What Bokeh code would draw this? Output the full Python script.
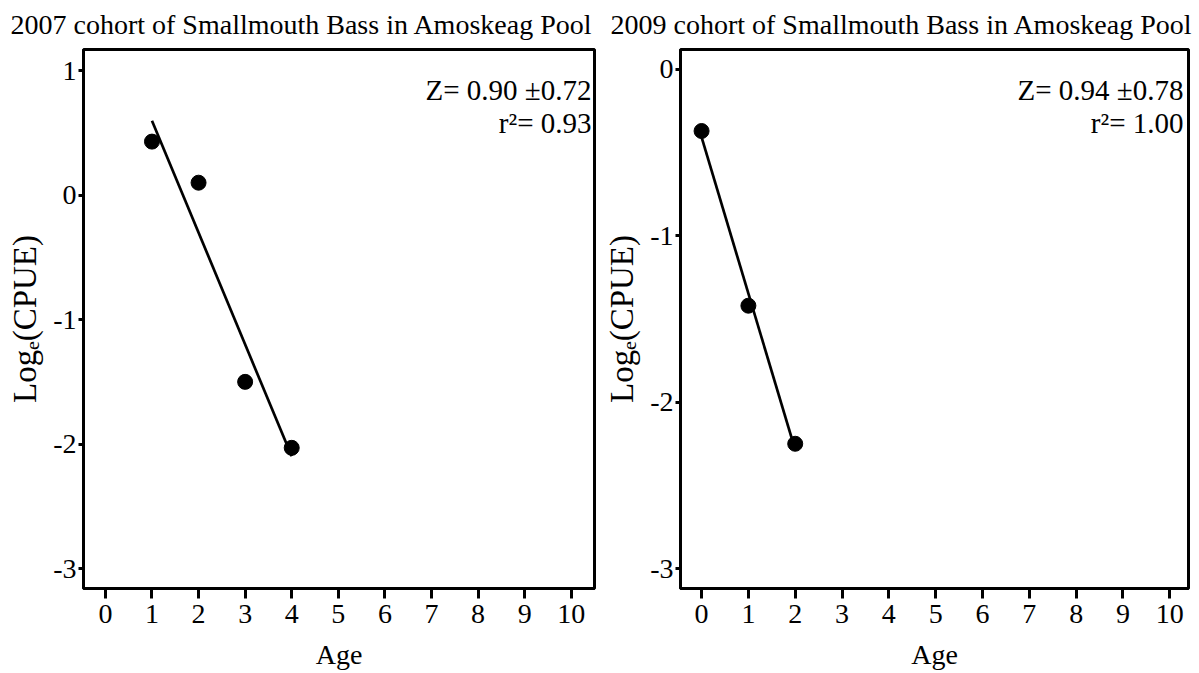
import numpy as np
from bokeh.plotting import figure
from bokeh.layouts import row
from bokeh.models import Label, FixedTicker, Range1d, Title
from bokeh.embed import file_html
from bokeh.resources import INLINE

FONT = "Liberation Serif"

# 2007 cohort
age_2007 = [1, 2, 3, 4]
logcpue_2007 = [0.43, 0.10, -1.50, -2.03]
# 2009 cohort
age_2009 = [0, 1, 2]
logcpue_2009 = [-0.37, -1.42, -2.25]

x_ticks = list(range(0, 11))
y_ticks_2007 = [1, 0, -1, -2, -3]
y_ticks_2009 = [0, -1, -2, -3]

title_2007 = "2007 cohort of Smallmouth Bass in Amoskeag Pool"
title_2009 = "2009 cohort of Smallmouth Bass in Amoskeag Pool"
z_2007 = "Z= 0.90 \u00b10.72"
z_2009 = "Z= 0.94 \u00b10.78"
r2_2007 = "r\u00b2= 0.93"
r2_2009 = "r\u00b2= 1.00"


def make_panel(ages, vals, yticks, xr, yr, title, ztxt, rtxt, width,
               border_left, border_right, title_offset, txt_xoff):
    p = figure(width=width, height=673, output_backend="svg",
               toolbar_location=None, x_range=Range1d(*xr), y_range=Range1d(*yr),
               min_border_left=border_left, min_border_right=border_right,
               min_border_top=49, min_border_bottom=85)
    t = Title(text=title, align="left", offset=title_offset, vertical_align="top",
              text_font=FONT, text_font_size="28px", text_font_style="normal",
              text_color="black", standoff=16)
    p.add_layout(t, "above")
    p.xgrid.visible = False
    p.ygrid.visible = False
    p.outline_line_color = "black"
    p.outline_line_width = 3
    p.outline_line_alpha = 1
    p.background_fill_color = "white"
    p.border_fill_color = "white"

    # regression line from data
    slope, intercept = np.polyfit(ages, vals, 1)
    xs = [min(ages), max(ages)]
    ys = [intercept + slope * x for x in xs]
    p.line(xs, ys, line_color="black", line_width=2.7)
    p.scatter(ages, vals, size=15, fill_color="black", line_color="black")

    for ax in p.xaxis:
        ax.ticker = FixedTicker(ticks=x_ticks)
        ax.axis_label = "Age"
        ax.axis_label_text_font = FONT
        ax.axis_label_text_font_size = "28px"
        ax.axis_label_text_font_style = "normal"
        ax.axis_label_text_color = "black"
        ax.axis_label_standoff = 13
        ax.major_label_text_font = FONT
        ax.major_label_text_font_size = "28px"
        ax.major_label_text_color = "black"
        ax.major_label_standoff = 6
        ax.major_tick_out = 10
        ax.major_tick_in = 0
        ax.major_tick_line_width = 3
        ax.minor_tick_line_color = None
        ax.axis_line_width = 3
    for ax in p.yaxis:
        ax.ticker = FixedTicker(ticks=yticks)
        ax.major_label_overrides = {v: str(v) for v in yticks}
        ax.axis_label = "Log\u2091(CPUE)"
        ax.axis_label_text_font = FONT
        ax.axis_label_text_font_size = "33px"
        ax.axis_label_text_font_style = "normal"
        ax.axis_label_text_color = "black"
        ax.axis_label_standoff = 7
        ax.major_label_text_font = FONT
        ax.major_label_text_font_size = "28px"
        ax.major_label_text_color = "black"
        ax.major_label_standoff = 2
        ax.major_tick_out = 5
        ax.major_tick_in = 0
        ax.major_tick_line_width = 3
        ax.minor_tick_line_color = None
        ax.axis_line_width = 3

    p.add_layout(Label(x=xr[1], y=yr[1], text=ztxt, text_align="right",
                       text_baseline="top", x_offset=txt_xoff, y_offset=-24,
                       text_font=FONT, text_font_size="29px", text_color="black"))
    p.add_layout(Label(x=xr[1], y=yr[1], text=rtxt, text_align="right",
                       text_baseline="top", x_offset=txt_xoff, y_offset=-57,
                       text_font=FONT, text_font_size="29px", text_color="black"))
    return p


p1 = make_panel(age_2007, logcpue_2007, y_ticks_2007, (-0.47, 10.5), (-3.16, 1.17),
                title_2007, z_2007, r2_2007, 600, 83, 6, -73, -3)
p2 = make_panel(age_2009, logcpue_2009, y_ticks_2009, (-0.45, 10.4), (-3.12, 0.12),
                title_2009, z_2009, r2_2009, 599, 80, 11, -70, -5)

layout = row(p1, p2)
open("out.html", "w").write(file_html(layout, INLINE))
